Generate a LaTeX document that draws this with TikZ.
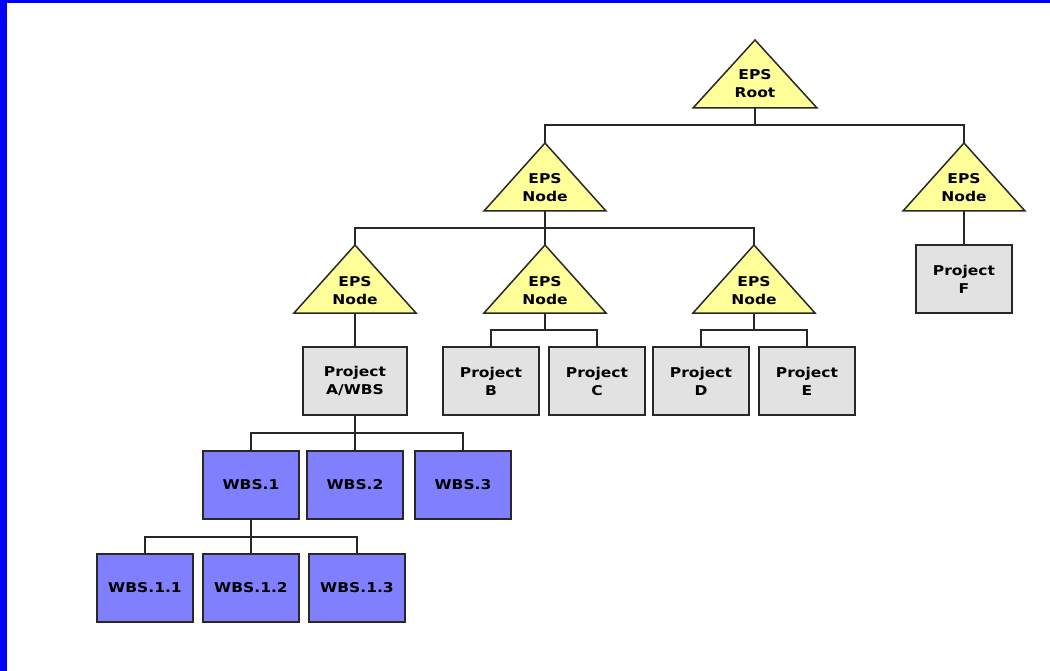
\documentclass[tikz,border=0pt]{standalone}
\usepackage{fontspec}
\setmainfont{DejaVu Sans}[FakeStretch=1.15]
\definecolor{epsyellow}{RGB}{255,255,153}
\definecolor{projgray}{RGB}{226,226,226}
\definecolor{wbsblue}{RGB}{128,128,255}
\definecolor{edge}{RGB}{40,40,40}
\definecolor{frameblue}{RGB}{0,0,255}
\tikzset{
  lbl/.style={inner sep=0pt, align=center, font=\fontsize{13.5}{18}\selectfont\bfseries},
  tri/.style={draw=edge, fill=epsyellow, line width=1.5pt, line join=miter},
  boxbase/.style={draw=edge, line width=2pt, inner sep=0pt, align=center,
    font=\fontsize{13.5}{18}\selectfont\bfseries, minimum height=68pt, minimum width=96pt},
  proj/.style={boxbase, fill=projgray},
  wbs/.style={boxbase, fill=wbsblue},
  conn/.style={draw=edge, line width=2pt},
}
\begin{document}
\begin{tikzpicture}[x=1pt,y=-1pt]
\useasboundingbox (0,0) rectangle (1050,671);
\fill[white] (0,0) rectangle (1050,671);
\fill[frameblue] (0,0) rectangle (7,671);
\fill[frameblue] (0,0) rectangle (1050,3);

% root
\coordinate (r-t) at (755,40); \coordinate (r-b) at (755,108);
\draw[tri] (r-t) -- ++(62,68) -- ++(-124,0) -- cycle;
\node[lbl] (r) at (755,84) {EPS\\Root};
% level 2
\coordinate (n1-t) at (545,143); \coordinate (n1-b) at (545,211);
\draw[tri] (n1-t) -- ++(61,68) -- ++(-122,0) -- cycle;
\node[lbl] (n1) at (545,188) {EPS\\Node};
\coordinate (n2-t) at (964,143); \coordinate (n2-b) at (964,211);
\draw[tri] (n2-t) -- ++(61,68) -- ++(-122,0) -- cycle;
\node[lbl] (n2) at (964,188) {EPS\\Node};
% level 3
\coordinate (a-t) at (355,245); \coordinate (a-b) at (355,313);
\draw[tri] (a-t) -- ++(61,68) -- ++(-122,0) -- cycle;
\node[lbl] (na) at (355,291) {EPS\\Node};
\coordinate (b-t) at (545,245); \coordinate (b-b) at (545,313);
\draw[tri] (b-t) -- ++(61,68) -- ++(-122,0) -- cycle;
\node[lbl] (nb) at (545,291) {EPS\\Node};
\coordinate (c-t) at (754,245); \coordinate (c-b) at (754,313);
\draw[tri] (c-t) -- ++(61,68) -- ++(-122,0) -- cycle;
\node[lbl] (nc) at (754,291) {EPS\\Node};

% projects
\node[proj, minimum width=104pt] (pa) at (355,381) {Project\\A/WBS};
\node[proj] (pb) at (491,381) {Project\\B};
\node[proj] (pc) at (597,381) {Project\\C};
\node[proj] (pd) at (701,381) {Project\\D};
\node[proj] (pe) at (807,381) {Project\\E};
\node[proj] (pf) at (964,279) {Project\\F};

% WBS
\node[wbs] (w1) at (251,485) {WBS.1};
\node[wbs] (w2) at (355,485) {WBS.2};
\node[wbs] (w3) at (463,485) {WBS.3};
\node[wbs] (w11) at (145,588) {WBS.1.1};
\node[wbs] (w12) at (251,588) {WBS.1.2};
\node[wbs] (w13) at (357,588) {WBS.1.3};

% connectors
\draw[conn] (r-b) -- ++(0,17) -| (n1-t);
\draw[conn] (r-b) -- ++(0,17) -| (n2-t);
\draw[conn] (n1-b) -- ++(0,17) -| (a-t);
\draw[conn] (n1-b) -- (b-t);
\draw[conn] (n1-b) -- ++(0,17) -| (c-t);
\draw[conn] (n2-b) -- (pf.north);
\draw[conn] (a-b) -- (pa.north);
\draw[conn] (b-b) -- ++(0,17) -| (pb.north);
\draw[conn] (b-b) -- ++(0,17) -| (pc.north);
\draw[conn] (c-b) -- ++(0,17) -| (pd.north);
\draw[conn] (c-b) -- ++(0,17) -| (pe.north);
\draw[conn] (pa.south) -- ++(0,17) -| (w1.north);
\draw[conn] (pa.south) -- (w2.north);
\draw[conn] (pa.south) -- ++(0,17) -| (w3.north);
\draw[conn] (w1.south) -- ++(0,17) -| (w11.north);
\draw[conn] (w1.south) -- (w12.north);
\draw[conn] (w1.south) -- ++(0,17) -| (w13.north);
\end{tikzpicture}
\end{document}
